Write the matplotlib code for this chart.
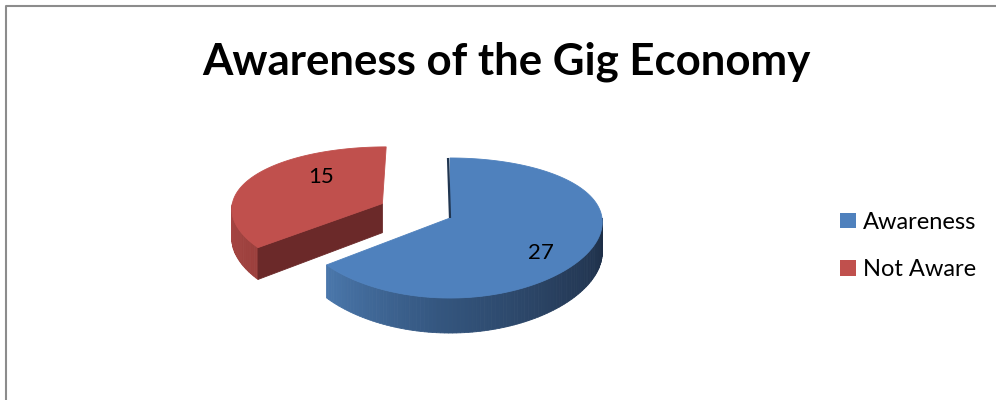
import numpy as np
import matplotlib.pyplot as plt
from matplotlib.patches import Polygon, Patch
from matplotlib.colors import LinearSegmentedColormap

plt.rcParams['font.family'] = ['Lato', 'DejaVu Sans']

# survey answers
categories = ['Awareness', 'Not Aware']
counts = [27, 15]

top_colors = ['#4f81bd', '#c0504d']
explode = [0.0, 0.5]

# pie geometry in pixel units (y grows downward)
CX, CY = 450, 218
A, B = 152, 68.6
KX, KY = 0.06, 1 / 7   # perspective strength: the near edge looks bigger
DEPTH = 30

fig = plt.figure(figsize=(9.96, 4.0), dpi=100)
ax = fig.add_axes([0, 0, 1, 1])
ax.set_xlim(0, 996)
ax.set_ylim(400, 0)
ax.axis('off')


def proj(u, v, drop=0.0):
    # u to the right, v away from the viewer, drop = height below the top face
    sx = 1.0 / (1.0 + KX * v)
    sy = 1.0 / (1.0 + KY * v)
    return CX + A * u * sx, CY - B * v * sy + drop * sy


def rim(c, t):
    return c[0] + np.cos(t), c[1] + np.sin(t)


def arc(c, t0, t1, n=120):
    return np.array([proj(*rim(c, t)) for t in np.linspace(t0, t1, n)])


def wall(ax, c, t0, t1, cmap, n=80):
    # outer side wall split into strips so it can be shaded left to right
    ts = np.linspace(t0, t1, n + 1)
    for i in range(n):
        u0, v0 = rim(c, ts[i])
        u1, v1 = rim(c, ts[i + 1])
        quad = [proj(u0, v0), proj(u1, v1), proj(u1, v1, DEPTH), proj(u0, v0, DEPTH)]
        col = cmap(i / (n - 1))
        ax.add_patch(Polygon(quad, closed=True, facecolor=col, edgecolor=col, lw=0.6))


blue_wall = LinearSegmentedColormap.from_list('bw', ['#4a77ab', '#34567f', '#283f5e', '#1d2e46'])
red_wall = LinearSegmentedColormap.from_list('rw', ['#a84643', '#9c403d'])

# slice angles, clockwise from 12 o'clock
total = sum(counts)
starts, ends = [], []
a = np.pi / 2
for v in counts:
    sweep = 2 * np.pi * v / total
    starts.append(a)
    ends.append(a - sweep)
    a -= sweep

# slice centers on the ground plane after exploding
centers = []
for i in range(len(counts)):
    mid = (starts[i] + ends[i]) / 2
    centers.append((explode[i] * np.cos(mid), explode[i] * np.sin(mid)))

# red slice (behind): outer wall, cut face, top
c = centers[1]
t_lo = ends[1] + 2 * np.pi        # 12 o'clock
t_hi = starts[1] + 2 * np.pi      # lower-left edge
wall(ax, c, np.pi, t_hi, red_wall, n=30)
ur, vr = rim(c, t_hi)
face = [proj(*c), proj(ur, vr), proj(ur, vr, DEPTH), proj(*c, DEPTH)]
ax.add_patch(Polygon(face, closed=True, facecolor='#6b2929', edgecolor='#6b2929', lw=0.6))
top = np.vstack([proj(*c), arc(c, t_lo, t_hi)])
ax.add_patch(Polygon(top, closed=True, facecolor=top_colors[1], edgecolor=top_colors[1], lw=0.6))

# blue slice: front wall, top
c = centers[0]
s, e = starts[0], ends[0]
wall(ax, c, e, 0.0, blue_wall, n=100)
top = np.vstack([proj(*c), arc(c, s, e)])
ax.add_patch(Polygon(top, closed=True, facecolor=top_colors[0], edgecolor=top_colors[0], lw=0.6))
p0, p1 = proj(*c), proj(*rim(c, s))
ax.plot([p0[0], p1[0] - 2], [p0[1], p1[1]], color='#203550', lw=1.6, solid_capstyle='butt')

# value labels
label_pos = [(541, 253), (321, 177)]
for (lx, ly), v in zip(label_pos, counts):
    ax.text(lx, ly, str(v), fontsize=16, ha='center', va='center', color='black')

ax.text(506, 75, 'Awareness of the Gig Economy', fontsize=31.5, fontweight='bold',
        ha='center', va='baseline', color='black')

handles = [Patch(facecolor=c, edgecolor='none') for c in top_colors]
ax.legend(handles, categories, loc='center left', bbox_to_anchor=(819, 246),
          bbox_transform=ax.transData, frameon=False, fontsize=17,
          handlelength=0.65, handleheight=0.65, handletextpad=0.3, labelspacing=1.12)

# chart area border (top and left edges)
ax.plot([5.5, 5.5, 996], [400, 5.5, 5.5], color='#8c8c8c', lw=1.5)

fig.savefig('out.png', dpi=100)
